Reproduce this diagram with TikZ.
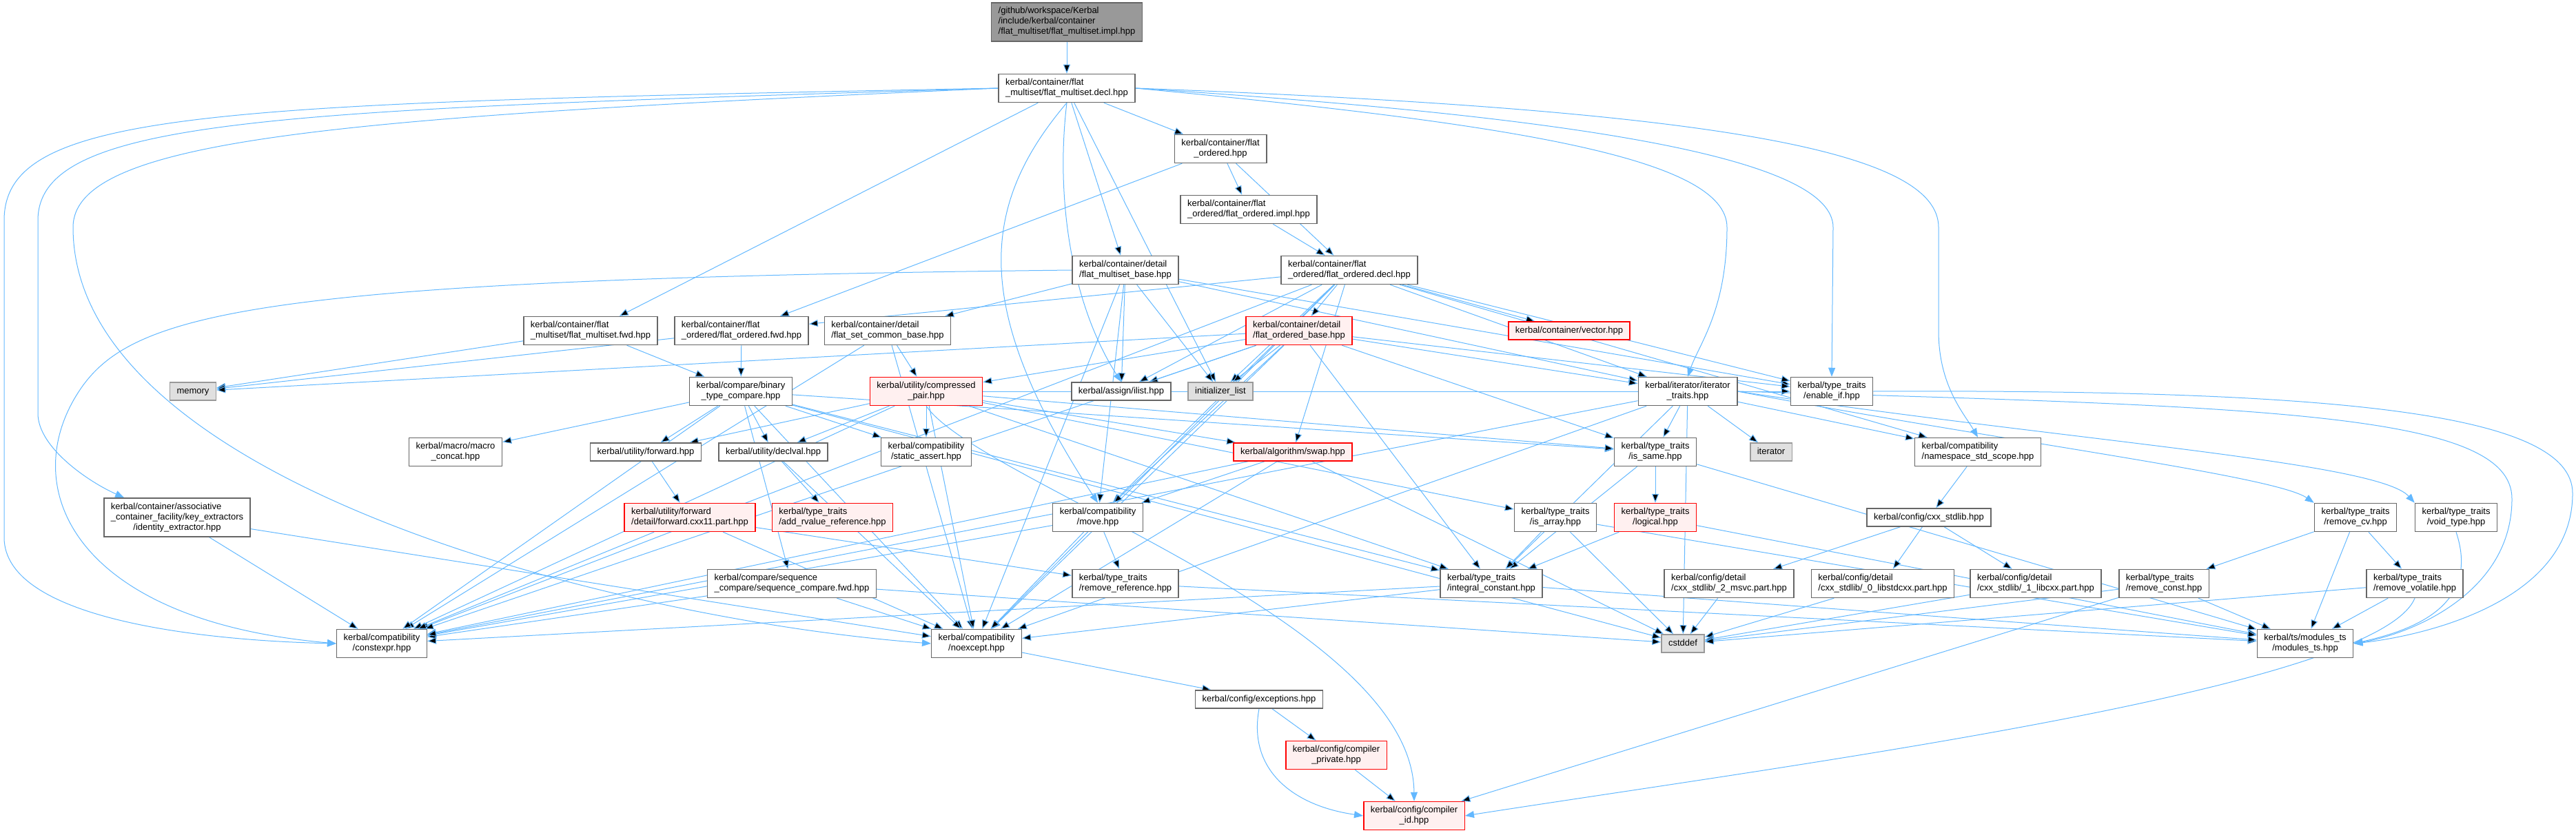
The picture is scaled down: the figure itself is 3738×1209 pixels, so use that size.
\documentclass[tikz,border=0pt]{standalone}
\usepackage{fontspec}
\setsansfont{Liberation Sans}
\usetikzlibrary{arrows.meta,backgrounds,calc}
\definecolor{DoxEdge}{HTML}{63B8FF}
\definecolor{DoxLine}{HTML}{666666}
\definecolor{DoxSys}{HTML}{999999}
\definecolor{DoxRed}{HTML}{FF0000}
\definecolor{DoxPink}{HTML}{FFF0F0}
\definecolor{DoxGray}{HTML}{E0E0E0}
\newcommand\twol[2]{\begin{tabular}{@{}l@{}}#1\\\multicolumn{1}{@{}c@{}}{#2}\end{tabular}}
\newcommand\threel[3]{\begin{tabular}{@{}l@{}}#1\\#2\\\multicolumn{1}{@{}c@{}}{#3}\end{tabular}}

\begin{document}
\begin{tikzpicture}[x=1pt,y=-1pt,font=\sffamily\fontsize{13}{15}\selectfont,
  b/.style={draw=DoxLine,line width=1.5pt,fill=white,inner xsep=10pt,inner ysep=5.5pt},
  rb/.style={b,draw=DoxRed,fill=DoxPink},
  gb/.style={b,draw=DoxSys,fill=DoxGray},
  one/.style={text height=10.5pt,text depth=4.5pt},
  dep/.style={-{Stealth[length=13pt,width=10pt,inset=0pt]},draw=DoxEdge,line width=1pt}]
  \useasboundingbox (0,0) rectangle (3738,1209);
  \node[b,fill=DoxSys] (impl) at (1548,32) {\threel{/github/workspace/Kerbal}{/include/kerbal/container}{/flat\_multiset/flat\_multiset.impl.hpp}};
  \node[b] (decl) at (1548,128) {\twol{kerbal/container/flat}{\_multiset/flat\_multiset.decl.hpp}};
  \node[b] (ordhpp) at (1771,216) {\twol{kerbal/container/flat}{\_ordered.hpp}};
  \node[b] (ordimpl) at (1812,304) {\twol{kerbal/container/flat}{\_ordered/flat\_ordered.impl.hpp}};
  \node[b] (msbase) at (1633,392) {\twol{kerbal/container/detail}{/flat\_multiset\_base.hpp}};
  \node[b] (orddecl) at (1958,392) {\twol{kerbal/container/flat}{\_ordered/flat\_ordered.decl.hpp}};
  \node[b] (msfwd) at (857,480) {\twol{kerbal/container/flat}{\_multiset/flat\_multiset.fwd.hpp}};
  \node[b] (ordfwd) at (1076,480) {\twol{kerbal/container/flat}{\_ordered/flat\_ordered.fwd.hpp}};
  \node[b] (setbase) at (1288,480) {\twol{kerbal/container/detail}{/flat\_set\_common\_base.hpp}};
  \node[rb] (ordbase) at (1885,480) {\twol{kerbal/container/detail}{/flat\_ordered\_base.hpp}};
  \node[rb,one] (vector) at (2277,480) {kerbal/container/vector.hpp};
  \node[gb,one] (memory) at (280,568) {memory};
  \node[b] (bincmp) at (1075,568) {\twol{kerbal/compare/binary}{\_type\_compare.hpp}};
  \node[rb] (cpair) at (1344,568) {\twol{kerbal/utility/compressed}{\_pair.hpp}};
  \node[b,one] (ilist) at (1627,568) {kerbal/assign/ilist.hpp};
  \node[gb,one] (initl) at (1771,568) {initializer\_list};
  \node[b] (ittraits) at (2449,568) {\twol{kerbal/iterator/iterator}{\_traits.hpp}};
  \node[b] (enableif) at (2658,568) {\twol{kerbal/type\_traits}{/enable\_if.hpp}};
  \node[b] (mconcat) at (661,656) {\twol{kerbal/macro/macro}{\_concat.hpp}};
  \node[b,one] (forward) at (937,656) {kerbal/utility/forward.hpp};
  \node[b,one] (declval) at (1122,656) {kerbal/utility/declval.hpp};
  \node[b] (sassert) at (1344,656) {\twol{kerbal/compatibility}{/static\_assert.hpp}};
  \node[rb,one] (swap) at (1876,656) {kerbal/algorithm/swap.hpp};
  \node[b] (issame) at (2402,656) {\twol{kerbal/type\_traits}{/is\_same.hpp}};
  \node[gb,one] (iterator) at (2570,656) {iterator};
  \node[b] (nsstd) at (2870,656) {\twol{kerbal/compatibility}{/namespace\_std\_scope.hpp}};
  \node[b] (idext) at (257,751) {\threel{kerbal/container/associative}{\_container\_facility/key\_extractors}{/identity\_extractor.hpp}};
  \node[rb] (fwdcxx) at (1001,751) {\twol{kerbal/utility/forward}{/detail/forward.cxx11.part.hpp}};
  \node[rb] (addrv) at (1208,751) {\twol{kerbal/type\_traits}{/add\_rvalue\_reference.hpp}};
  \node[b] (move) at (1593,751) {\twol{kerbal/compatibility}{/move.hpp}};
  \node[b] (isarray) at (2257,751) {\twol{kerbal/type\_traits}{/is\_array.hpp}};
  \node[rb] (logical) at (2402,751) {\twol{kerbal/type\_traits}{/logical.hpp}};
  \node[b,one] (cxxstd) at (2799,751) {kerbal/config/cxx\_stdlib.hpp};
  \node[b] (rmcv) at (3418,751) {\twol{kerbal/type\_traits}{/remove\_cv.hpp}};
  \node[b] (voidt) at (3564,751) {\twol{kerbal/type\_traits}{/void\_type.hpp}};
  \node[b] (seqcmp) at (1149,847) {\twol{kerbal/compare/sequence}{\_compare/sequence\_compare.fwd.hpp}};
  \node[b] (rmref) at (1633,847) {\twol{kerbal/type\_traits}{/remove\_reference.hpp}};
  \node[b] (intconst) at (2164,847) {\twol{kerbal/type\_traits}{/integral\_constant.hpp}};
  \node[b] (msvc) at (2509,847) {\twol{kerbal/config/detail}{/cxx\_stdlib/\_2\_msvc.part.hpp}};
  \node[b] (libstd) at (2732,847) {\twol{kerbal/config/detail}{/cxx\_stdlib/\_0\_libstdcxx.part.hpp}};
  \node[b] (libcxx) at (2954,847) {\twol{kerbal/config/detail}{/cxx\_stdlib/\_1\_libcxx.part.hpp}};
  \node[b] (rmconst) at (3140,847) {\twol{kerbal/type\_traits}{/remove\_const.hpp}};
  \node[b] (rmvol) at (3504,847) {\twol{kerbal/type\_traits}{/remove\_volatile.hpp}};
  \node[b] (cexpr) at (554,934) {\twol{kerbal/compatibility}{/constexpr.hpp}};
  \node[b] (noexc) at (1417,934) {\twol{kerbal/compatibility}{/noexcept.hpp}};
  \node[gb,one] (cstddef) at (2442,934) {cstddef};
  \node[b] (modts) at (3345,934) {\twol{kerbal/ts/modules\_ts}{/modules\_ts.hpp}};
  \node[b,one] (except) at (1827,1015) {kerbal/config/exceptions.hpp};
  \node[rb] (cpriv) at (1939,1096) {\twol{kerbal/config/compiler}{\_private.hpp}};
  \node[rb] (cid) at (2052,1184) {\twol{kerbal/config/compiler}{\_id.hpp}};
  \begin{pgfonlayer}{background}
  \draw[dep] (impl) edge (decl);
  \draw[dep] (decl) edge (msfwd) edge (ordhpp) edge (msbase) edge (initl);
  \draw[dep] (decl.south) .. controls (1530,300) and (1560,450) .. (ilist.north);
  \draw[dep] (decl.south) .. controls (1420,300) and (1410,450) .. (move.north);
  \draw[dep] (decl.west) .. controls (300,150) and (6,160) .. (6,320) -- (6,780) .. controls (6,900) and (300,930) .. (cexpr.west);
  \draw[dep] (decl.west) .. controls (400,160) and (55,170) .. (55,320) -- (55,600) .. controls (55,650) and (130,700) .. ($(idext.north west)+(30,0)$);
  \draw[dep] (decl.west) .. controls (500,170) and (106,200) .. (106,330) .. controls (106,700) and (900,900) .. (noexc.west);
  \draw[dep] (decl.east) .. controls (2500,160) and (2813,220) .. (2813,330) -- (2813,480) .. controls (2813,560) and (2850,600) .. (nsstd.north);
  \draw[dep] (decl.east) .. controls (2300,170) and (2660,230) .. (2660,330) -- (enableif.north);
  \draw[dep] (decl.east) .. controls (2200,180) and (2506,230) .. (2506,330) .. controls (2506,450) and (2465,500) .. (ittraits.north);
  \draw[dep] (ordhpp) edge (ordfwd) edge (ordimpl) edge (orddecl);
  \draw[dep] (ordimpl) edge (orddecl);
  \draw[dep] (msbase) edge (setbase) edge (ilist) edge (initl) edge (noexc) edge (move) edge (ittraits) edge (enableif);
  \draw[dep] (msbase.west) .. controls (400,405) and (200,450) .. (120,560) .. controls (20,700) and (100,900) .. (cexpr.west);
  \draw[dep] (msfwd) edge (memory) edge (bincmp);
  \draw[dep] (ordfwd) edge (memory) edge (bincmp);
  \draw[dep] (setbase) edge (cpair) edge (cexpr) edge (noexc);
  \draw[dep] (orddecl) edge (ordbase) edge (vector) edge (ordfwd) edge (ilist) edge (initl) edge (ittraits) edge (enableif) edge (nsstd) edge (cexpr) edge (noexc) edge (move) edge (swap);
  \draw[dep] (ordbase) edge (cpair) edge (ilist) edge (initl) edge (ittraits) edge (enableif) edge (issame) edge (cexpr) edge (noexc) edge (move) edge (memory) edge (intconst);
  \draw[dep] (bincmp) edge (mconcat) edge (forward) edge (declval) edge (sassert) edge (seqcmp) edge (cexpr) edge (noexc) edge (intconst) edge (issame) edge (cstddef);
  \draw[dep] (cpair) edge (forward) edge (declval) edge (sassert) edge (swap) edge (cexpr) edge (noexc) edge (issame) edge (isarray) edge (intconst) edge (enableif);
  \draw[dep] (cpair.south) .. controls (1420,700) and (2050,900) .. (cid.north);
  \draw[dep] (forward) edge (fwdcxx);
  \draw[dep] (declval) edge (addrv) edge (noexc);
  \draw[dep] (fwdcxx) edge (cexpr) edge (noexc) edge (rmref);
  \draw[dep] (swap) edge (move) edge (noexc) edge (cexpr) edge (cstddef);
  \draw[dep] (move) edge (cexpr) edge (rmref) edge (noexc);
  \draw[dep] (seqcmp) edge (cexpr) edge (noexc) edge (cstddef);
  \draw[dep] (rmref) edge (modts);
  \draw[dep] (noexc) edge (except);
  \draw[dep] (except) edge (cpriv);
  \draw[dep] (except.south) .. controls (1810,1120) and (1880,1170) .. (cid.west);
  \draw[dep] (cpriv) edge (cid);
  \draw[dep] (ittraits) edge (issame) edge (iterator) edge (intconst) edge (nsstd) edge (cstddef) edge (noexc) edge (cexpr);
  \draw[dep] (ittraits.east) .. controls (2900,640) and (3300,690) .. (rmcv.north west);
  \draw[dep] (ittraits.east) .. controls (3000,640) and (3450,670) .. (voidt.north west);
  \draw[dep] (ittraits.east) .. controls (3300,590) and (3645,600) .. (3645,724) .. controls (3645,860) and (3500,920) .. (modts.east);
  \draw[dep] (enableif.east) .. controls (3400,565) and (3733,600) .. (3733,716) .. controls (3733,880) and (3500,925) .. (modts.east);
  \draw[dep] (issame) edge (logical) edge (intconst) edge (modts);
  \draw[dep] (logical) edge (intconst) edge (modts);
  \draw[dep] (isarray) edge (intconst) edge (cstddef) edge (modts);
  \draw[dep] (intconst) edge (cexpr) edge (noexc) edge (modts);
  \draw[dep] (nsstd) edge (cxxstd);
  \draw[dep] (cxxstd) edge (msvc) edge (libstd) edge (libcxx);
  \draw[dep] (msvc) edge (cstddef);
  \draw[dep] (libstd) edge (cstddef);
  \draw[dep] (libcxx) edge (cstddef);
  \draw[dep] (rmcv) edge (rmconst) edge (rmvol) edge (modts);
  \draw[dep] (rmconst) edge (modts) edge (cstddef) edge (cid);
  \draw[dep] (rmvol) edge (modts) edge (cstddef);
  \draw[dep] (rmvol.south) .. controls (3450,1000) and (2600,1110) .. (cid.east);
  \draw[dep] (voidt.south) .. controls (3600,880) and (3500,915) .. (modts.east);
  \draw[dep] (idext) edge (cexpr) edge (noexc);
  \end{pgfonlayer}
\end{tikzpicture}
\end{document}
